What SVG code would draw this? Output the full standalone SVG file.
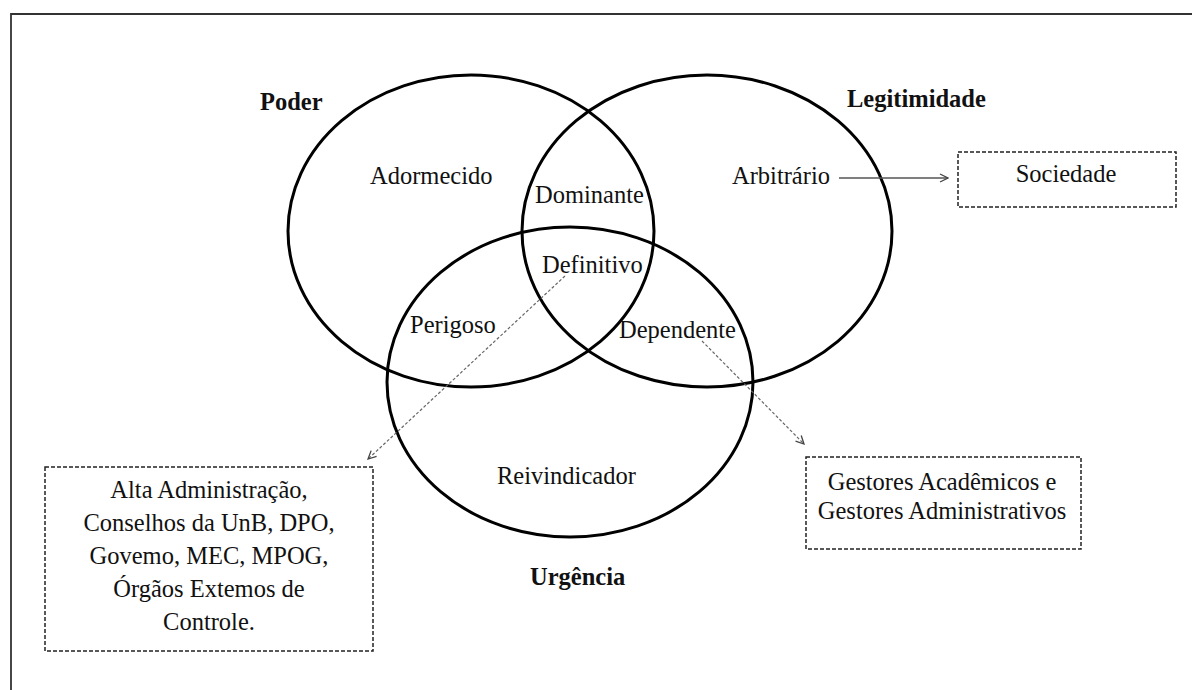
<svg xmlns="http://www.w3.org/2000/svg" width="1192" height="690" viewBox="0 0 1192 690">
  <style>
    .t { font-family: "Liberation Serif", "Times New Roman", serif; font-size: 24.5px; fill: #111; }
    .b { font-weight: bold; }
    .m { text-anchor: middle; }
    .circle { fill: none; stroke: #000; stroke-width: 3; }
    .box { fill: #fff; stroke: #222; stroke-width: 1.5; stroke-dasharray: 4 2; }
    .solid { stroke: #555; stroke-width: 1.5; fill: none; }
    .dash { stroke: #666; stroke-width: 1.2; fill: none; stroke-dasharray: 3 2; }
  </style>
  <defs>
    <marker id="arr" viewBox="0 0 10 10" refX="9" refY="5" markerWidth="10" markerHeight="10" markerUnits="userSpaceOnUse" orient="auto">
      <path d="M1,1 L9,5 L1,9" fill="none" stroke="#444" stroke-width="1.3"/>
    </marker>
  </defs>
  <rect width="1192" height="690" fill="#fff"/>
  <path d="M11,690 V14 H1192" fill="none" stroke="#333" stroke-width="1.8"/>

  <g id="poder">
    <ellipse class="circle" cx="471" cy="231" rx="183" ry="156"/>
    <text class="t b" x="260" y="110">Poder</text>
  </g>
  <g id="legitimidade">
    <ellipse class="circle" cx="707" cy="231" rx="185" ry="156"/>
    <text class="t b" x="847" y="107">Legitimidade</text>
  </g>
  <g id="urgencia">
    <ellipse class="circle" cx="570" cy="382" rx="183" ry="155"/>
    <text class="t b" x="530" y="585">Urgência</text>
  </g>

  <g id="adormecido"><text class="t" x="370" y="184">Adormecido</text></g>
  <g id="dominante"><text class="t" x="535" y="203">Dominante</text></g>
  <g id="arbitrario"><text class="t" x="732" y="184">Arbitrário</text></g>
  <g id="definitivo"><text class="t" x="542" y="273">Definitivo</text></g>
  <g id="perigoso"><text class="t" x="410" y="333">Perigoso</text></g>
  <g id="dependente"><text class="t" x="619" y="338">Dependente</text></g>
  <g id="reivindicador"><text class="t" x="497" y="484">Reivindicador</text></g>

  <g id="sociedade">
    <rect class="box" x="958" y="152" width="218" height="55"/>
    <text class="t m" x="1066" y="182">Sociedade</text>
  </g>
  <g id="alta-administracao">
    <rect class="box" x="45" y="467" width="328" height="184"/>
    <text class="t m" x="209" y="498">Alta Administração,</text>
    <text class="t m" x="209" y="531">Conselhos da UnB, DPO,</text>
    <text class="t m" x="209" y="564">Govemo, MEC, MPOG,</text>
    <text class="t m" x="209" y="597">Órgãos Extemos de</text>
    <text class="t m" x="209" y="630">Controle.</text>
  </g>
  <g id="gestores">
    <rect class="box" x="806" y="457" width="275" height="92"/>
    <text class="t m" x="942" y="490">Gestores Acadêmicos e</text>
    <text class="t m" x="942" y="519">Gestores Administrativos</text>
  </g>

  <g id="connectors">
    <line class="solid" x1="839" y1="178" x2="948" y2="178" marker-end="url(#arr)"/>
    <line class="dash" x1="565" y1="276" x2="368" y2="459" marker-end="url(#arr)"/>
    <line class="dash" x1="702" y1="341" x2="804" y2="444" marker-end="url(#arr)"/>
  </g>
</svg>
